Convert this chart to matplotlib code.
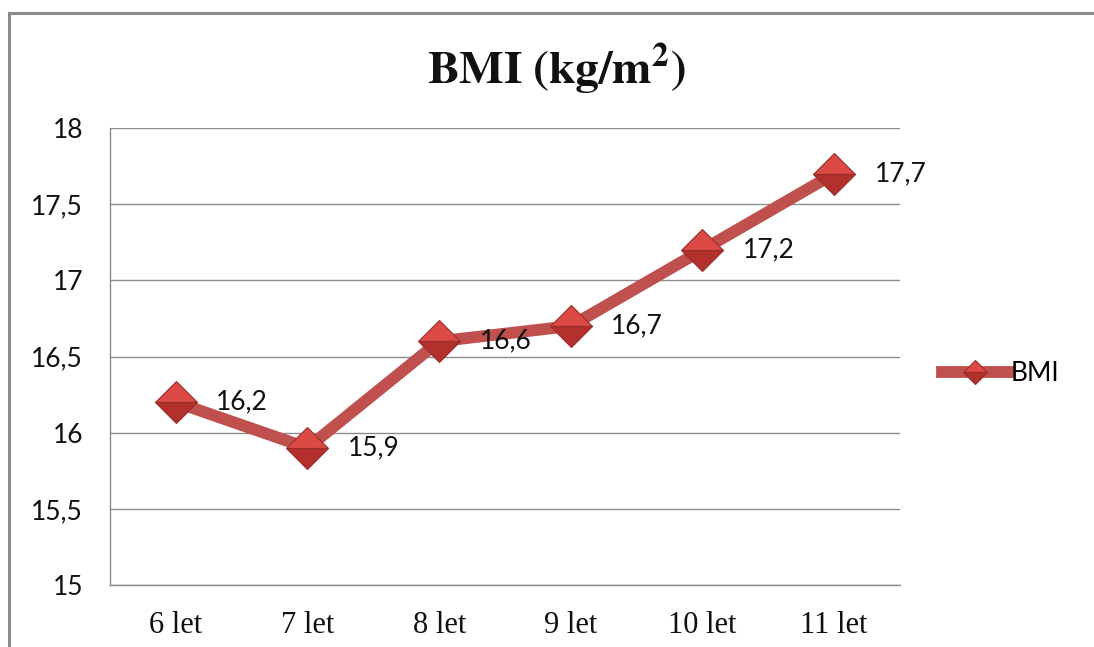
import matplotlib
matplotlib.use("Agg")
import matplotlib.pyplot as plt
from matplotlib.patches import Rectangle

categories = ["6 let", "7 let", "8 let", "9 let", "10 let", "11 let"]
bmi = [16.2, 15.9, 16.6, 16.7, 17.2, 17.7]
value_labels = ["16,2", "15,9", "16,6", "16,7", "17,2", "17,7"]
y_ticks = [15, 15.5, 16, 16.5, 17, 17.5, 18]
y_tick_labels = ["15", "15,5", "16", "16,5", "17", "17,5", "18"]

plt.rcParams["mathtext.fontset"] = "stix"

W, H = 1094, 647
fig = plt.figure(figsize=(W / 100, H / 100), dpi=100)
fig.patch.set_facecolor("white")

# outer chart frame
fig.add_artist(Rectangle((9 / W, -0.05), 1.2, (H - 13) / H + 0.05,
                         transform=fig.transFigure, fill=False,
                         edgecolor="#8a8a8a", linewidth=2.2))

ax = fig.add_axes([110 / W, 1 - 585 / H, 790 / W, (585 - 128) / H])
x = list(range(len(categories)))

line_color = "#C0504D"
face_light = "#DB4A45"
face_dark = "#B3302C"
edge = "#9A2E2B"

ax.plot(x, bmi, color=line_color, linewidth=8.5, solid_capstyle="butt",
        zorder=3)
ax.plot(x, bmi, linestyle="none", marker="D", markersize=21.5,
        markerfacecolor=face_light, markerfacecoloralt=face_dark,
        fillstyle="top", markeredgecolor=edge, markeredgewidth=0.8,
        zorder=4)

for xi, yi, lab in zip(x, bmi, value_labels):
    ax.annotate(lab, (xi, yi), xytext=(29, 0), textcoords="offset points",
                ha="left", va="center", fontsize=19, family="Lato",
                color="#111111", zorder=5)

ax.set_xlim(-0.5, len(categories) - 0.5)
ax.set_ylim(15, 18)
ax.set_yticks(y_ticks)
ax.set_yticklabels(y_tick_labels, family="Lato", fontsize=19)
ax.set_xticks(x)
ax.set_xticklabels(categories, family="Liberation Serif", fontsize=22)
ax.tick_params(axis="both", length=0, colors="#111111")
ax.tick_params(axis="x", pad=19)
ax.tick_params(axis="y", pad=19.5)

ax.grid(axis="y", color="#8c8c8c", linewidth=1.0)
ax.set_axisbelow(True)
for side in ["top", "right"]:
    ax.spines[side].set_visible(False)
for side in ["left", "bottom"]:
    ax.spines[side].set_color("#8c8c8c")
    ax.spines[side].set_linewidth(1.0)

fig.text(556 / W, 1 - 69 / H, r"$\mathbf{BMI\ (kg/m^{2})}$", ha="center",
         va="center", fontsize=34, color="#111111")

# legend
leg = ax.legend(
    handles=[plt.Line2D([], [], color=line_color, linewidth=8.5,
                        marker="D", markersize=12.5,
                        markerfacecolor=face_light, markerfacecoloralt=face_dark,
                        fillstyle="top", markeredgecolor=edge,
                        markeredgewidth=0.8)],
    labels=["BMI"], loc="center left", bbox_to_anchor=(942 / W, 1 - 374 / H),
    bbox_transform=fig.transFigure, frameon=False, handlelength=2.5,
    handletextpad=0.1, prop={"family": "Lato", "size": 19},
    borderpad=0, borderaxespad=0)

fig.savefig("out.png", dpi=100, facecolor="white")
